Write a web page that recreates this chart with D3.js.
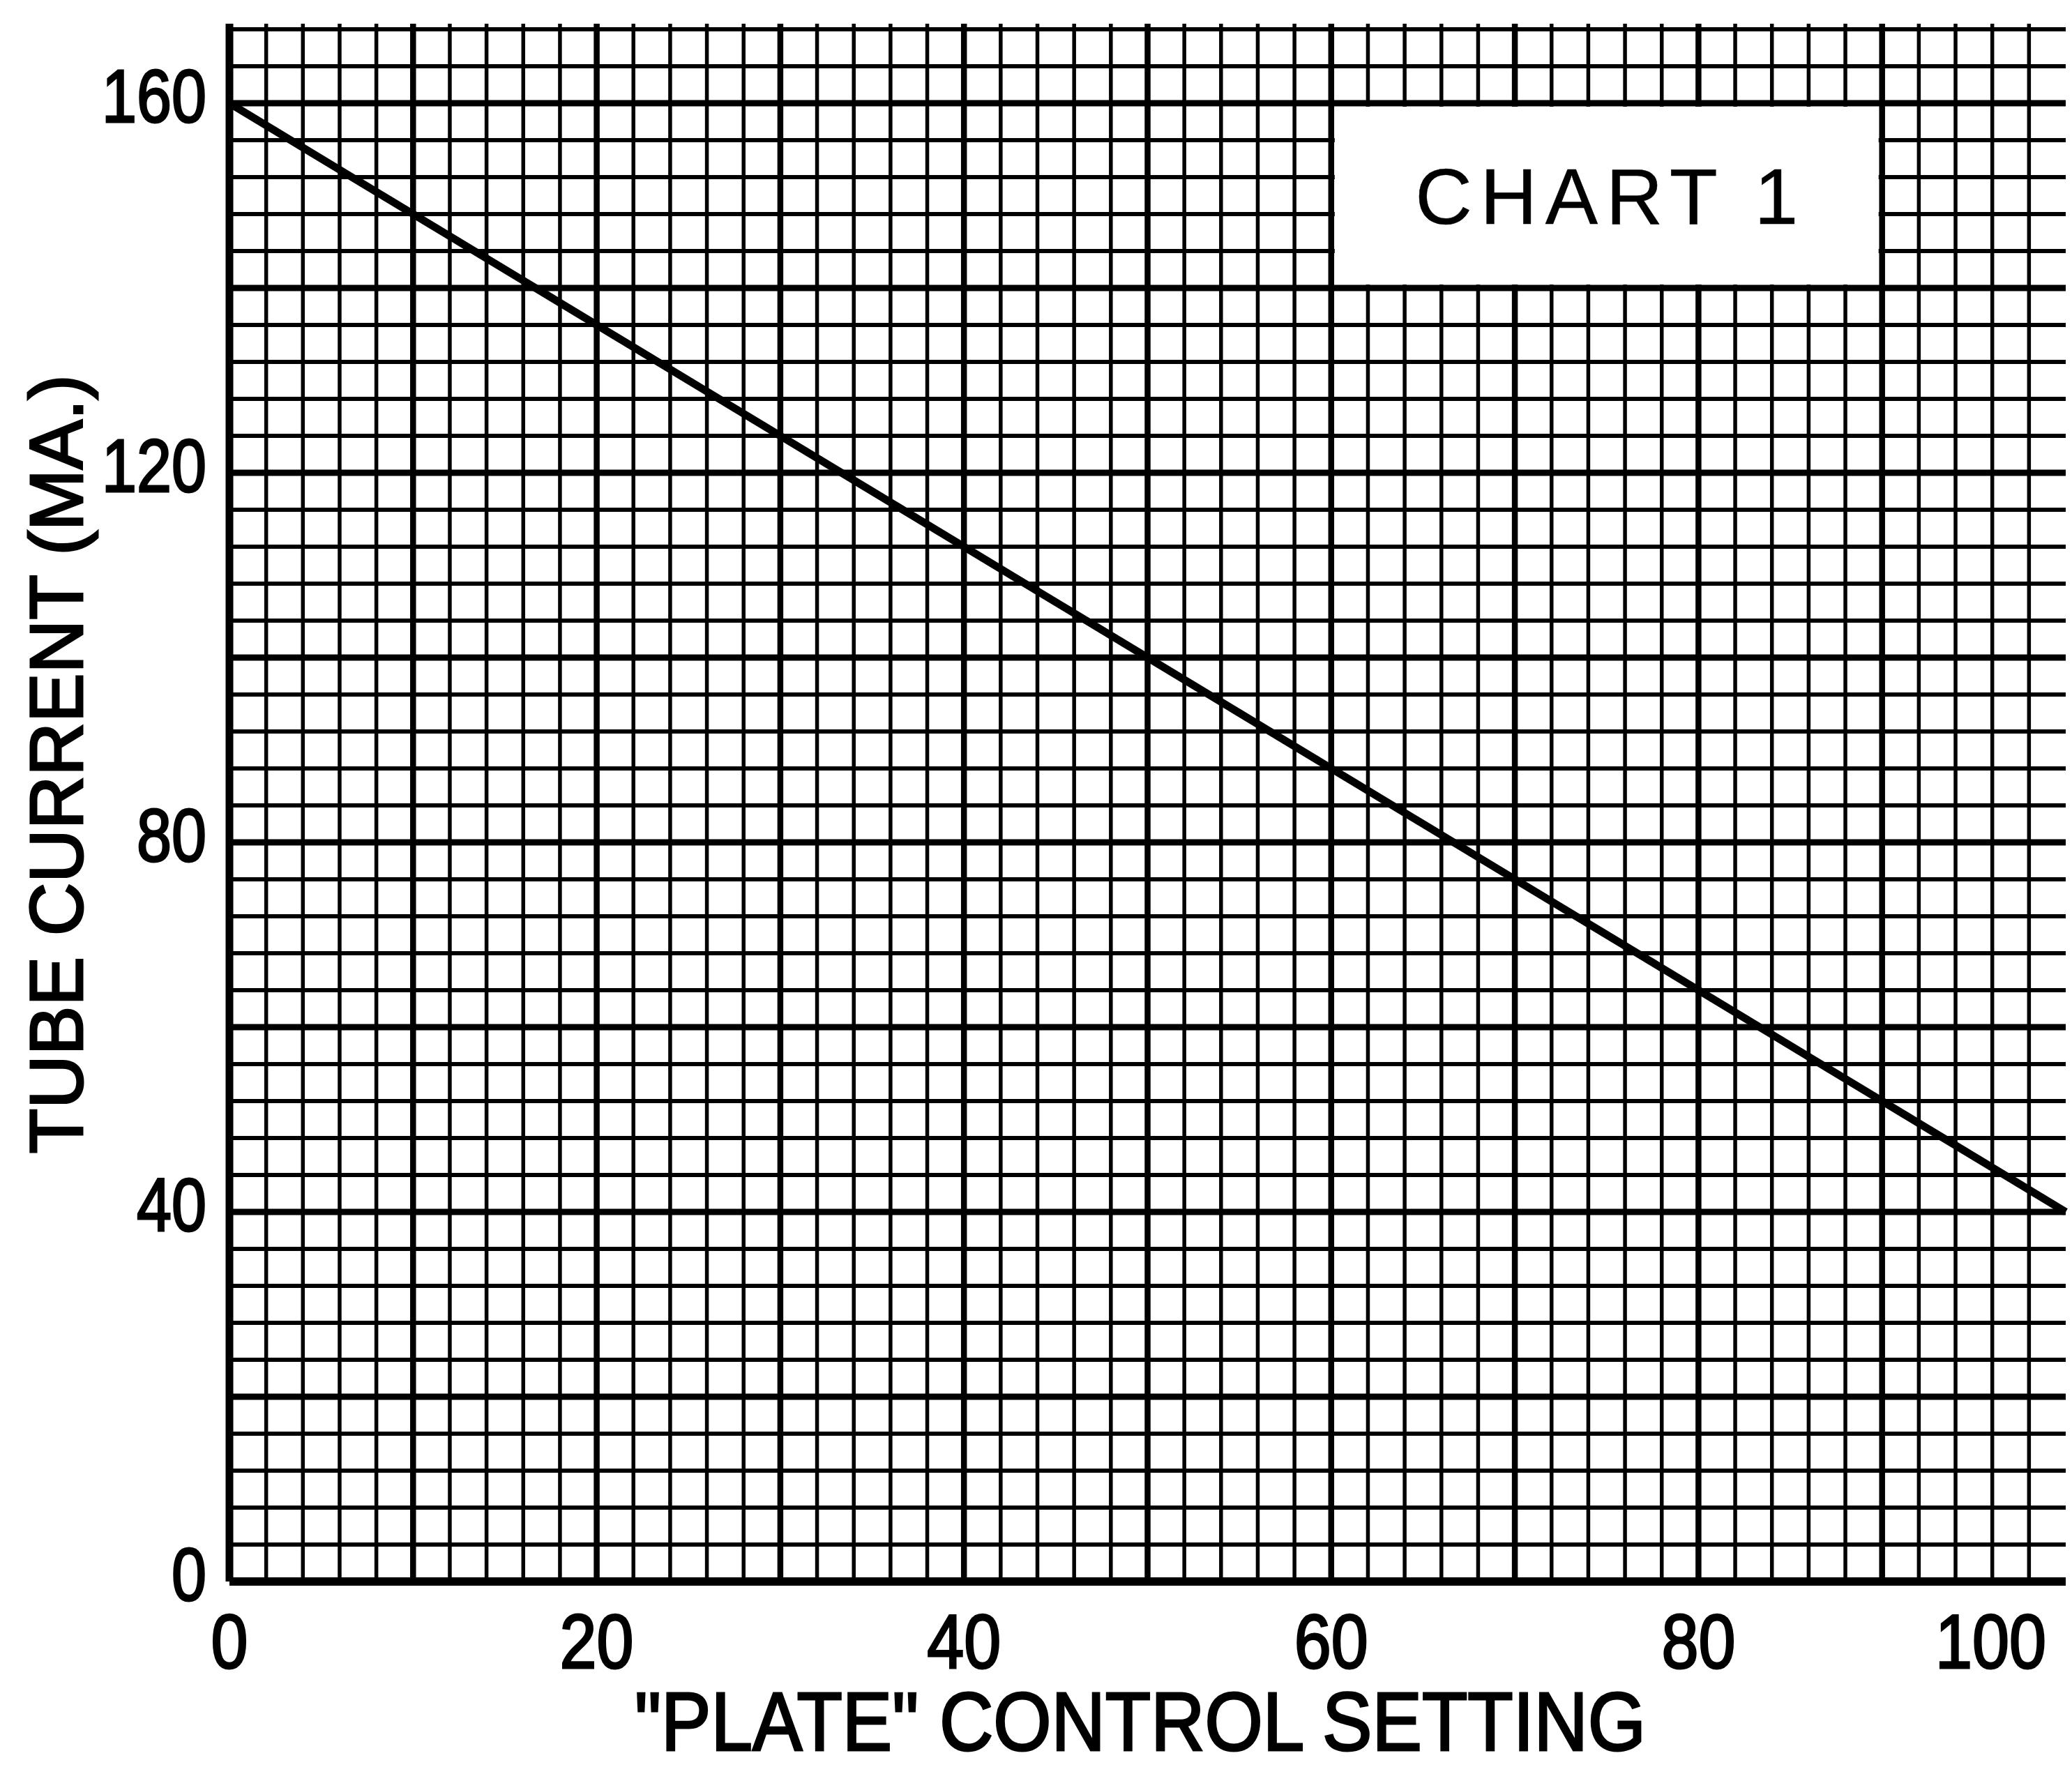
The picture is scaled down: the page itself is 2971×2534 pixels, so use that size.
<!DOCTYPE html>
<html>
<head>
<meta charset="utf-8">
<script src="https://d3js.org/d3.v7.min.js"></script>
<style>
  body { margin: 0; background: #fff; }
  text { font-family: "Liberation Sans", Arial, sans-serif; fill: #000; stroke: #000; stroke-width: 3px; }
</style>
</head>
<body>
<div id="my_dataviz"></div>
<script>
// data
var plateSetting = [0, 50, 100];
var tubeCurrent = [160, 100, 40];
var xTicks = [0, 20, 40, 60, 80, 100];
var yTicks = [0, 40, 80, 120, 160];
var titleText = "CHART 1";
var xLabel = "\"PLATE\" CONTROL SETTING";
var yLabel = "TUBE CURRENT (MA.)";

var W = 2971, H = 2534;
var margin = {top: 42, right: 9, bottom: 266, left: 329},
width = W - margin.left - margin.right,
height = H - margin.top - margin.bottom;

var svg = d3.select('#my_dataviz')
  .append('svg')
    .attr('width', W)
    .attr('height', H)
  .append('g')
    .attr('transform','translate('+margin.left+','+margin.top+')');

var x = d3.scaleLinear()
  .domain([0, 100])
  .range([0, width]);

var y = d3.scaleLinear()
  .domain([0, 168])
  .range([height, 0]);

// graph paper: minor every 2 (x) / 4 (y), heavy every 10 (x) / 20 (y)
var xGrid = d3.range(0, 100, 2);
var yGrid = d3.range(0, 169, 4);

svg.selectAll("vgrid")
  .data(xGrid)
  .enter()
  .append("line")
    .attr("x1", function(d) { return x(d); })
    .attr("x2", function(d) { return x(d); })
    .attr("y1", y(168) - 8)
    .attr("y2", y(0))
    .attr("stroke", "#000")
    .attr("stroke-width", function(d) { return d == 0 ? 11 : (d % 10 == 0 ? 8.5 : 5.5); });

svg.selectAll("hgrid")
  .data(yGrid)
  .enter()
  .append("line")
    .attr("x1", x(0))
    .attr("x2", x(100))
    .attr("y1", function(d) { return y(d); })
    .attr("y2", function(d) { return y(d); })
    .attr("stroke", "#000")
    .attr("stroke-width", function(d) { return d == 0 ? 12 : (d % 20 == 0 ? 9 : 6); });

// white box for the title
svg.append("rect")
  .attr("x", x(60) + 5)
  .attr("y", y(160) + 5)
  .attr("width", x(90) - x(60) - 10)
  .attr("height", y(140) - y(160) - 10)
  .attr("fill", "#fff");

svg.append("text")
  .attr("x", x(75))
  .attr("y", y(150))
  .attr("dy", "0.36em")
  .attr("text-anchor", "middle")
  .attr("textLength", 549)
  .attr("lengthAdjust", "spacing")
  .style("font-size", "113px")
  .style("stroke-width", "0.5px")
  .text(titleText);

// the line
var line = d3.line()
  .x(function(d, i) { return x(plateSetting[i]); })
  .y(function(d) { return y(d); });

svg.append("path")
  .datum(tubeCurrent)
  .attr("d", line)
  .attr("fill", "none")
  .attr("stroke", "#000")
  .attr("stroke-width", 11);

// tick labels (narrow digits like the original lettering)
svg.selectAll("xlab")
  .data(xTicks)
  .enter()
  .append("text")
    .attr("x", function(d) { return d == 100 ? x(d) - 28 : x(d); })
    .attr("y", height + 124)
    .attr("text-anchor", function(d) { return d == 100 ? "end" : "middle"; })
    .attr("textLength", function(d) { return String(d).length * 53; })
    .attr("lengthAdjust", "spacingAndGlyphs")
    .style("font-size", "110px")
    .text(function(d) { return d; });

svg.selectAll("ylab")
  .data(yTicks)
  .enter()
  .append("text")
    .attr("x", -33)
    .attr("y", function(d) { return y(d) - 12; })
    .attr("dy", "0.36em")
    .attr("text-anchor", "end")
    .attr("textLength", function(d) { return String(d).length * 50; })
    .attr("lengthAdjust", "spacingAndGlyphs")
    .style("font-size", "108px")
    .text(function(d) { return d; });

// axis titles
svg.append("text")
  .attr("x", 1635 - margin.left)
  .attr("y", height + 242)
  .attr("text-anchor", "middle")
  .attr("textLength", 1450)
  .attr("lengthAdjust", "spacingAndGlyphs")
  .style("font-size", "118px")
  .text(xLabel);

svg.append("text")
  .attr("transform", "translate(" + (118 - margin.left) + "," + (1096 - margin.top) + ")rotate(-90)")
  .attr("text-anchor", "middle")
  .attr("textLength", 1117)
  .attr("lengthAdjust", "spacingAndGlyphs")
  .style("font-size", "108px")
  .text(yLabel);
</script>
</body>
</html>
